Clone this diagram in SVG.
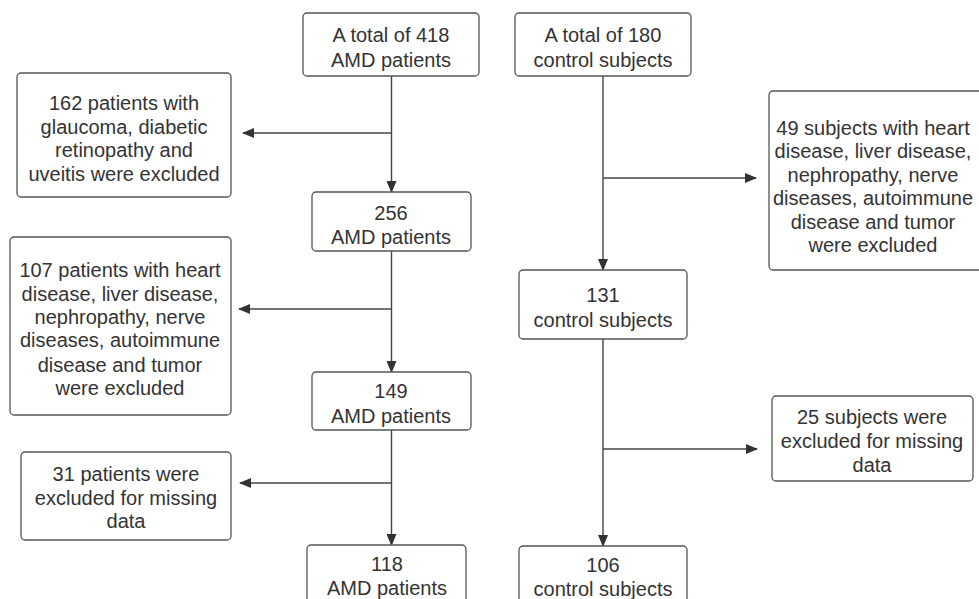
<svg xmlns="http://www.w3.org/2000/svg" width="979" height="599" viewBox="0 0 979 599">
<defs>
<marker id="arr" markerWidth="12" markerHeight="10" refX="11" refY="5" orient="auto" markerUnits="userSpaceOnUse">
<path d="M0,0 L12,5 L0,10 Z" fill="#333"/>
</marker>
<style>
.box{fill:#fff;stroke:#555;stroke-width:1.3}
.t{font-family:"Liberation Sans",Arial,sans-serif;font-size:20px;fill:#333;text-anchor:middle}
.c{fill:none;stroke:#444;stroke-width:1.4}
</style>
</defs>
<rect width="979" height="599" fill="#fff"/>
<g id="connectors">
<line class="c" x1="391.5" y1="76" x2="391.5" y2="192" marker-end="url(#arr)"/>
<line class="c" x1="391.5" y1="133" x2="243" y2="133" marker-end="url(#arr)"/>
<line class="c" x1="391.5" y1="251" x2="391.5" y2="372" marker-end="url(#arr)"/>
<line class="c" x1="391.5" y1="309" x2="239" y2="309" marker-end="url(#arr)"/>
<line class="c" x1="391.5" y1="430" x2="391.5" y2="545" marker-end="url(#arr)"/>
<line class="c" x1="391.5" y1="483" x2="240" y2="483" marker-end="url(#arr)"/>
<line class="c" x1="603" y1="76" x2="603" y2="270" marker-end="url(#arr)"/>
<line class="c" x1="603" y1="178" x2="756" y2="178" marker-end="url(#arr)"/>
<line class="c" x1="603" y1="339" x2="603" y2="546" marker-end="url(#arr)"/>
<line class="c" x1="603" y1="449" x2="757" y2="449" marker-end="url(#arr)"/>
</g>
<g id="amd418">
<rect class="box" x="303" y="13" width="176" height="63" rx="4"/>
<text class="t" x="391" y="42">A total of 418</text>
<text class="t" x="391" y="67">AMD patients</text>
</g>
<g id="ctrl180">
<rect class="box" x="515" y="13" width="176" height="63" rx="4"/>
<text class="t" x="603" y="42">A total of 180</text>
<text class="t" x="603" y="67">control subjects</text>
</g>
<g id="excl162">
<rect class="box" x="17" y="73" width="214" height="124" rx="4"/>
<text class="t" x="124" y="110">162 patients with</text>
<text class="t" x="124" y="134">glaucoma, diabetic</text>
<text class="t" x="124" y="157">retinopathy and</text>
<text class="t" x="124" y="181">uveitis were excluded</text>
</g>
<g id="amd256">
<rect class="box" x="312" y="192" width="159" height="59" rx="4"/>
<text class="t" x="391" y="220">256</text>
<text class="t" x="391" y="244">AMD patients</text>
</g>
<g id="excl49">
<rect class="box" x="769" y="91" width="215" height="179" rx="4"/>
<text class="t" x="873" y="135">49 subjects with heart</text>
<text class="t" x="873" y="158">disease, liver disease,</text>
<text class="t" x="873" y="182">nephropathy, nerve</text>
<text class="t" x="873" y="205">diseases, autoimmune</text>
<text class="t" x="873" y="229">disease and tumor</text>
<text class="t" x="873" y="252">were excluded</text>
</g>
<g id="ctrl131">
<rect class="box" x="519" y="270" width="168" height="69" rx="4"/>
<text class="t" x="603" y="302">131</text>
<text class="t" x="603" y="327">control subjects</text>
</g>
<g id="excl107">
<rect class="box" x="10" y="237" width="221" height="178" rx="4"/>
<text class="t" x="120" y="277">107 patients with heart</text>
<text class="t" x="120" y="301">disease, liver disease,</text>
<text class="t" x="120" y="324">nephropathy, nerve</text>
<text class="t" x="120" y="347">diseases, autoimmune</text>
<text class="t" x="120" y="372">disease and tumor</text>
<text class="t" x="120" y="395">were excluded</text>
</g>
<g id="amd149">
<rect class="box" x="312" y="372" width="159" height="58" rx="4"/>
<text class="t" x="391" y="398">149</text>
<text class="t" x="391" y="423">AMD patients</text>
</g>
<g id="excl25">
<rect class="box" x="772" y="396" width="201" height="85" rx="4"/>
<text class="t" x="872" y="424">25 subjects were</text>
<text class="t" x="872" y="448">excluded for missing</text>
<text class="t" x="872" y="472">data</text>
</g>
<g id="excl31">
<rect class="box" x="21" y="452" width="210" height="88" rx="4"/>
<text class="t" x="126" y="481">31 patients were</text>
<text class="t" x="126" y="505">excluded for missing</text>
<text class="t" x="126" y="528">data</text>
</g>
<g id="amd118">
<rect class="box" x="307" y="545" width="159" height="70" rx="4"/>
<text class="t" x="387" y="571">118</text>
<text class="t" x="387" y="595">AMD patients</text>
</g>
<g id="ctrl106">
<rect class="box" x="519" y="546" width="168" height="70" rx="4"/>
<text class="t" x="603" y="572">106</text>
<text class="t" x="603" y="596">control subjects</text>
</g>
</svg>
